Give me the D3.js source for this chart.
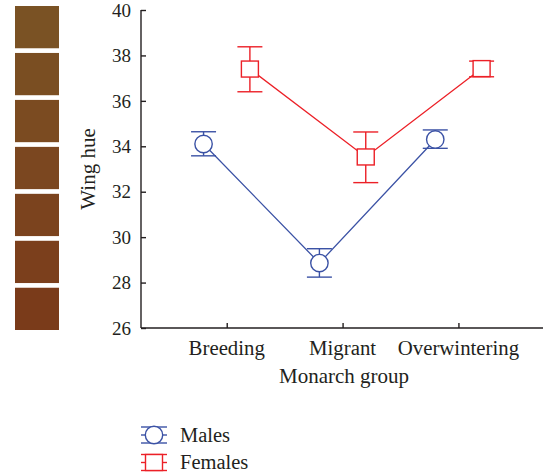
<!DOCTYPE html>
<html>
<head>
<meta charset="utf-8">
<script src="https://cdn.jsdelivr.net/npm/d3@7"></script>
</head>
<body style="margin:0">
<svg id="chart" width="544" height="475"></svg>
<script>
// chart data
var groups = ["Breeding", "Migrant", "Overwintering"];
var maleMean = [34.1, 28.86, 34.3];
var maleLow = [33.58, 28.24, 33.91];
var maleHigh = [34.64, 29.49, 34.72];
var femaleMean = [37.4, 33.53, 37.42];
var femaleLow = [36.4, 32.4, 37.06];
var femaleHigh = [38.38, 34.63, 37.75];
var yTicks = [26, 28, 30, 32, 34, 36, 38, 40];
var swatchColors = ["#7a5224", "#7a4e22", "#7b4b21", "#7b4720", "#7b431e", "#7b3f1c", "#7a3b1a"];

var blue = "#3b52a5", red = "#ec2027", ink = "#231f20";
var fontList = "'Liberation Serif', 'Times New Roman', serif";

var svg = d3.select("#chart");

function label(sel, size) {
  return sel.style("font-family", fontList).style("font-size", size + "px").attr("fill", ink);
}

// scales
var x = d3.scaleLinear().domain([0.26, 3.73]).range([141, 543]);
var y = d3.scaleLinear().domain([26, 40]).range([328, 10]);

// colour strip on the left
var sw = d3.scaleBand().domain(d3.range(swatchColors.length)).range([6, 330]).paddingInner(0.1);
svg.selectAll("rect.swatch")
  .data(swatchColors)
  .enter()
  .append("rect")
    .attr("class", "swatch")
    .attr("x", 15)
    .attr("width", 44)
    .attr("y", function(d, i) { return sw(i); })
    .attr("height", sw.bandwidth())
    .attr("fill", function(d) { return d; });

// y axis
var yAxis = svg.append("g")
  .attr("transform", "translate(141,0)")
  .call(d3.axisRight(y).tickValues(yTicks).tickSize(5).tickFormat(""));
yAxis.selectAll("line, path").attr("stroke", ink).attr("stroke-width", 1.4);
yAxis.select(".domain").attr("d", "M0," + y(40) + "V" + y(26));

svg.selectAll("text.ytick")
  .data(yTicks)
  .enter()
  .append("text")
    .attr("class", "ytick")
    .attr("x", 131)
    .attr("y", function(d) { return y(d); })
    .attr("dy", "0.35em")
    .attr("text-anchor", "end")
    .call(label, 19)
    .text(function(d) { return d; });

// x axis
var xAxis = svg.append("g")
  .attr("transform", "translate(0," + y(26) + ")")
  .call(d3.axisTop(x).tickValues([1, 2, 3]).tickSize(5).tickFormat(""));
xAxis.selectAll("line, path").attr("stroke", ink).attr("stroke-width", 1.4);
xAxis.select(".domain").attr("d", "M141,0H543");

svg.selectAll("text.xtick")
  .data(groups)
  .enter()
  .append("text")
    .attr("class", "xtick")
    .attr("x", function(d, i) { return x(i + 1); })
    .attr("y", 355)
    .attr("text-anchor", "middle")
    .call(label, 20.8)
    .text(function(d) { return d; });

svg.append("text")
  .attr("x", 344)
  .attr("y", 383)
  .attr("text-anchor", "middle")
  .call(label, 21)
  .text("Monarch group");

svg.append("text")
  .attr("transform", "translate(95,169) rotate(-90)")
  .attr("text-anchor", "middle")
  .call(label, 21)
  .text("Wing hue");

// series
var series = [
  { name: "Males", color: blue, shape: "circle", off: -0.2, mean: maleMean, low: maleLow, high: maleHigh },
  { name: "Females", color: red, shape: "square", off: 0.2, mean: femaleMean, low: femaleLow, high: femaleHigh }
];

function drawMarker(g, shape, color) {
  if (shape === "circle") {
    g.append("circle").attr("r", 8.7)
      .attr("fill", "#fff").attr("stroke", color).attr("stroke-width", 1.4);
  } else {
    g.append("rect").attr("x", -8.5).attr("y", -8).attr("width", 17).attr("height", 16)
      .attr("fill", "#fff").attr("stroke", color).attr("stroke-width", 1.4);
  }
}

series.forEach(function(s) {
  var g = svg.append("g");
  var pts = s.mean.map(function(v, i) { return [x(i + 1 + s.off), y(v)]; });

  g.append("path")
    .attr("d", d3.line()(pts))
    .attr("fill", "none")
    .attr("stroke", s.color)
    .attr("stroke-width", 1.3);

  s.mean.forEach(function(v, i) {
    var cx = x(i + 1 + s.off);
    var eb = g.append("g").attr("stroke", s.color).attr("stroke-width", 1.4);
    eb.append("line").attr("x1", cx).attr("x2", cx).attr("y1", y(s.low[i])).attr("y2", y(s.high[i]));
    eb.append("line").attr("x1", cx - 12.5).attr("x2", cx + 12.5).attr("y1", y(s.low[i])).attr("y2", y(s.low[i]));
    eb.append("line").attr("x1", cx - 12.5).attr("x2", cx + 12.5).attr("y1", y(s.high[i])).attr("y2", y(s.high[i]));
    var m = g.append("g").attr("transform", "translate(" + cx + "," + y(v) + ")");
    drawMarker(m, s.shape, s.color);
  });
});

// legend
series.forEach(function(s, i) {
  var ly = 435 + i * 27.5;
  var lg = svg.append("g").attr("transform", "translate(154," + ly + ")");
  lg.append("line").attr("x1", -13).attr("x2", 13).attr("y1", 0).attr("y2", 0)
    .attr("stroke", s.color).attr("stroke-width", 1.4);
  lg.append("line").attr("x1", -13).attr("x2", 13).attr("y1", -8).attr("y2", -8)
    .attr("stroke", s.color).attr("stroke-width", 1.4);
  lg.append("line").attr("x1", -13).attr("x2", 13).attr("y1", 8).attr("y2", 8)
    .attr("stroke", s.color).attr("stroke-width", 1.4);
  drawMarker(lg, s.shape, s.color);
  svg.append("text")
    .attr("x", 180)
    .attr("y", ly + 6.5)
    .call(label, 20.5)
    .text(s.name);
});
</script>
</body>
</html>
